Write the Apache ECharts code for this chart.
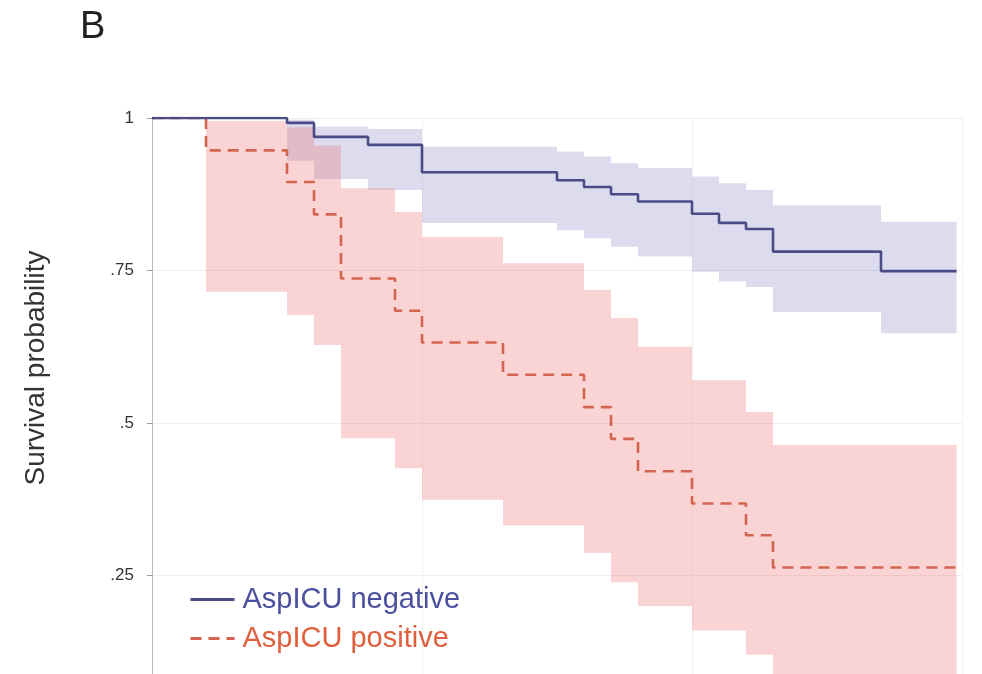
<!DOCTYPE html>
<html>
<head>
<meta charset="utf-8">
<script src="https://cdn.jsdelivr.net/npm/echarts@6/dist/echarts.min.js"></script>
<style>
html,body{margin:0;padding:0;background:#fff;overflow:hidden;width:982px;height:674px;}
#chart{width:982px;height:740px;}
</style>
</head>
<body>
<div id="chart"></div>
<script>
// ---- data (time in days) ----
var negTimes = [0, 5, 6, 8, 10, 15, 16, 17, 18, 20, 21, 22, 23, 27, 29.8];
var negSurv  = [1, 0.992, 0.969, 0.956, 0.911, 0.898, 0.887, 0.875, 0.863, 0.843, 0.828, 0.818, 0.781, 0.749, 0.749];

var negBandTimes = [5, 6, 8, 10, 15, 16, 17, 18, 20, 21, 22, 23, 27, 29.8];
var negUpper = [0.997, 0.986, 0.982, 0.953, 0.945, 0.937, 0.926, 0.918, 0.904, 0.893, 0.882, 0.857, 0.830, 0.830];
var negLower = [0.930, 0.900, 0.882, 0.828, 0.816, 0.803, 0.789, 0.773, 0.748, 0.732, 0.723, 0.682, 0.647, 0.647];

var posTimes = [0, 2, 5, 6, 7, 9, 10, 13, 16, 17, 18, 20, 22, 23, 29.8];
var posSurv  = [1, 0.947, 0.895, 0.842, 0.737, 0.684, 0.632, 0.579, 0.526, 0.474, 0.421, 0.368, 0.316, 0.263, 0.263];

var posBandTimes = [2, 5, 6, 7, 9, 10, 13, 16, 17, 18, 20, 22, 23, 29.8];
var posUpper = [0.995, 0.985, 0.955, 0.885, 0.846, 0.805, 0.762, 0.718, 0.672, 0.625, 0.570, 0.518, 0.464, 0.464];
var posLower = [0.715, 0.677, 0.628, 0.475, 0.426, 0.374, 0.332, 0.287, 0.239, 0.200, 0.160, 0.120, 0.070, 0.070];

var yTicks = [0, 0.25, 0.5, 0.75, 1];
var yTickLabels = ['0', '.25', '.5', '.75', '1'];
var seriesNames = ['AspICU negative', 'AspICU positive'];

function pairs(xs, ys) { return xs.map(function (x, i) { return [x, ys[i]]; }); }

// step-shaped confidence band polygon, mapped through the chart's own scales
function bandRenderer(times, upper, lower, fill) {
  return function (params, api) {
    if (params.dataIndex !== 0) return null;
    var pts = [];
    var n = times.length;
    for (var i = 0; i < n - 1; i++) {
      pts.push(api.coord([times[i], upper[i]]));
      pts.push(api.coord([times[i + 1], upper[i]]));
    }
    for (var j = n - 2; j >= 0; j--) {
      pts.push(api.coord([times[j + 1], lower[j]]));
      pts.push(api.coord([times[j], lower[j]]));
    }
    return {type: 'polygon', shape: {points: pts}, style: {fill: fill, stroke: null}};
  };
}

var FONT = 'Liberation Sans, Arial, Helvetica, sans-serif';

var chart = echarts.init(document.getElementById('chart'), null, {renderer: 'canvas', width: 982, height: 740});
chart.setOption({
  backgroundColor: '#ffffff',
  animation: false,
  grid: {left: 152, top: 118, width: 810, height: 610, containLabel: false},
  xAxis: {
    type: 'value', min: 0, max: 30, interval: 10,
    axisLine: {show: false}, axisTick: {show: false}, axisLabel: {show: false},
    splitLine: {show: true, lineStyle: {color: '#f1f1f3', width: 1}}
  },
  yAxis: {
    type: 'value', min: 0, max: 1, interval: 0.25, offset: 4,
    axisLine: {show: true, lineStyle: {color: '#b8b8b8', width: 1}},
    axisTick: {show: true, length: 5, lineStyle: {color: '#9a9a9a'}},
    axisLabel: {
      margin: 14, fontSize: 17, color: '#333', fontFamily: FONT,
      formatter: function (v) {
        for (var i = 0; i < yTicks.length; i++) if (Math.abs(v - yTicks[i]) < 1e-9) return yTickLabels[i];
        return '';
      }
    },
    splitLine: {show: true, lineStyle: {color: '#eeeef0', width: 1}}
  },
  legend: {
    orient: 'vertical', left: 184, top: 580,
    itemWidth: 44, itemHeight: 14, itemGap: 10,
    itemStyle: {opacity: 0},
    lineStyle: {width: 3},
    textStyle: {fontSize: 29, fontFamily: FONT, padding: [0, 0, 0, 3]},
    data: [
      {name: seriesNames[0], textStyle: {color: '#4a4f9e'}},
      {name: seriesNames[1], textStyle: {color: '#e0603e'}}
    ]
  },
  graphic: [
    {type: 'text', left: 80, top: 9, style: {text: 'B', fontSize: 38, fontFamily: FONT, fill: '#222'}},
    {type: 'text', x: 36, y: 368, rotation: Math.PI / 2,
     style: {text: 'Survival probability', fontSize: 28, fontFamily: FONT, fill: '#333', align: 'center', verticalAlign: 'middle'}}
  ],
  series: [
    {name: 'negBand', type: 'custom', silent: true, z: 1,
     renderItem: bandRenderer(negBandTimes, negUpper, negLower, 'rgba(140,140,200,0.30)'),
     data: pairs(negBandTimes, negUpper), clip: true},
    {name: 'posBand', type: 'custom', silent: true, z: 2,
     renderItem: bandRenderer(posBandTimes, posUpper, posLower, 'rgba(238,112,112,0.30)'),
     data: pairs(posBandTimes, posUpper), clip: true},
    {name: seriesNames[1], type: 'line', step: 'end', symbol: 'none',
     data: pairs(posTimes, posSurv), z: 4,
     itemStyle: {color: '#d2654f'},
     lineStyle: {color: '#d2654f', width: 2.6, type: [11, 7]}},
    {name: seriesNames[0], type: 'line', step: 'end', symbol: 'none',
     data: pairs(negTimes, negSurv), z: 5,
     itemStyle: {color: '#4b4b86'},
     lineStyle: {color: '#4b4b86', width: 2.6}}
  ]
});
</script>
</body>
</html>
